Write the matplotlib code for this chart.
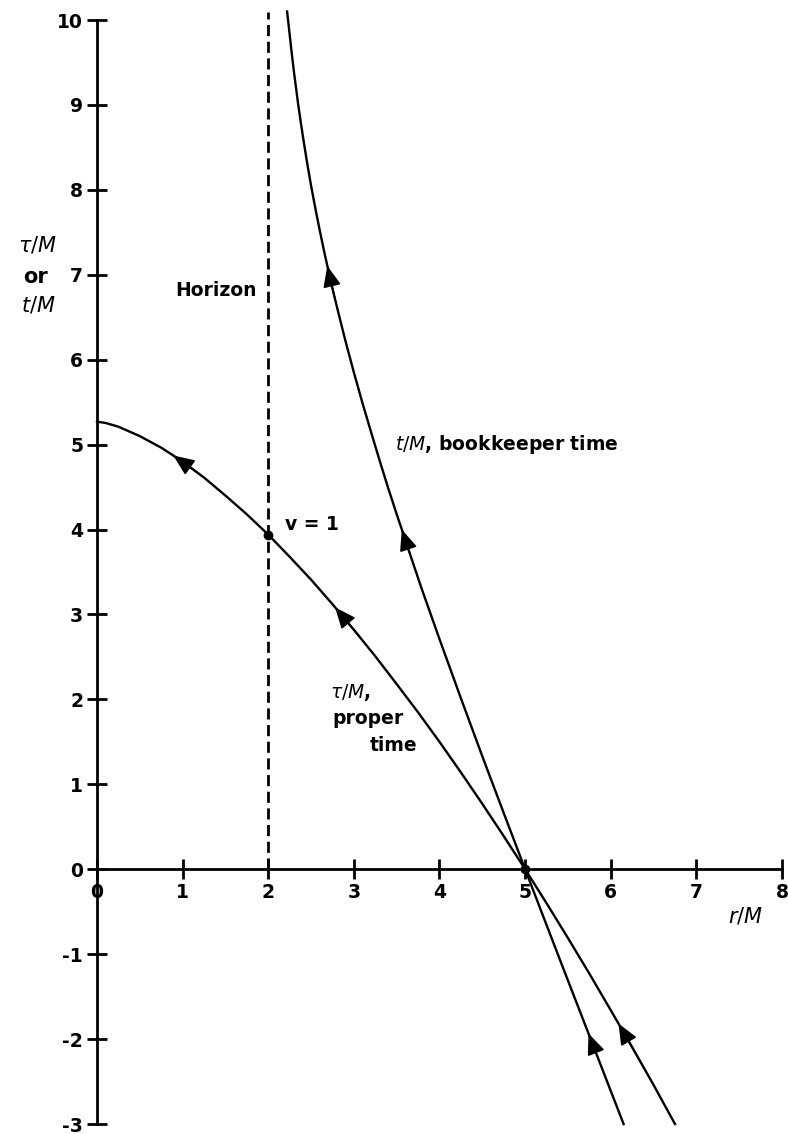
import numpy as np
import matplotlib
matplotlib.use("Agg")
import matplotlib.pyplot as plt

# ---- data ----
r_proper = [0.0, 0.1, 0.25, 0.5, 0.75, 1.0, 1.25, 1.5, 1.75, 2.0, 2.25, 2.5, 2.75, 3.0,
            3.25, 3.5, 3.75, 4.0, 4.25, 4.5, 4.75, 5.0, 5.25, 5.5, 5.75, 6.0, 6.25, 6.5, 6.75]
tau_proper = [5.27, 5.255, 5.211, 5.10, 4.964, 4.80, 4.612, 4.40, 4.179, 3.94, 3.679, 3.41,
              3.121, 2.82, 2.508, 2.18, 1.847, 1.50, 1.140, 0.77, 0.390, 0.0, -0.400, -0.81,
              -1.229, -1.66, -2.095, -2.54, -3.0]

r_book = [2.22, 2.25, 2.27, 2.3, 2.35, 2.4, 2.45, 2.5, 2.55, 2.6, 2.65, 2.7, 2.75, 2.8, 2.9,
          3.0, 3.1, 3.2, 3.3, 3.4, 3.5, 3.6, 3.7, 3.8, 4.0, 4.25, 4.5, 4.75, 5.0, 5.25, 5.5,
          5.75, 6.0, 6.15]
t_book = [10.1, 9.83, 9.646, 9.39, 9.002, 8.66, 8.342, 8.05, 7.782, 7.53, 7.287, 7.06, 6.838,
          6.63, 6.227, 5.85, 5.491, 5.15, 4.815, 4.49, 4.181, 3.88, 3.577, 3.28, 2.71, 2.013,
          1.33, 0.662, 0.0, -0.656, -1.31, -1.960, -2.61, -3.0]

arrow_r_proper = [0.89, 2.78, 6.09]
arrow_r_book = [2.69, 3.56, 5.74]

horizon_r = 2.0
dot_r = [2.0, 5.0]

x_ticks = [0, 1, 2, 3, 4, 5, 6, 7, 8]
y_ticks = [-3, -2, -1, 0, 1, 2, 3, 4, 5, 6, 7, 8, 9, 10]

FONT = "DejaVu Sans"
plt.rcParams["font.family"] = [FONT]
plt.rcParams["mathtext.fontset"] = "dejavusans"

fig = plt.figure(figsize=(7.88, 11.34), dpi=100)
ax = fig.add_axes([97 / 788, 10 / 1134, 685 / 788, 1104 / 1134])
ax.set_xlim(0, 8)
ax.set_ylim(-3, 10)

for s in ["top", "right"]:
    ax.spines[s].set_visible(False)
ax.spines["left"].set_position(("data", 0))
ax.spines["bottom"].set_position(("data", 0))
ax.spines["left"].set_linewidth(2)
ax.spines["bottom"].set_linewidth(2)

ax.set_xticks(x_ticks)
ax.set_yticks(y_ticks)
ax.set_xticklabels([str(v) for v in x_ticks])
ax.set_yticklabels([str(v) for v in y_ticks])
ax.tick_params(direction="inout", length=14, width=2, labelsize=13.5, pad=3)
for lab in ax.get_xticklabels() + ax.get_yticklabels():
    lab.set_fontweight("bold")

# curves
ax.plot(r_proper, tau_proper, color="black", lw=1.7, clip_on=False, zorder=3)
ax.plot(r_book, t_book, color="black", lw=1.7, clip_on=False, zorder=3)

# horizon
ax.vlines(horizon_r, 0, 10.1, colors="black", linestyles=(0, (4, 2)), lw=2, clip_on=False)

# dots
dot_y = np.interp(dot_r, r_proper, tau_proper)
ax.plot(dot_r, dot_y, "o", color="black", ms=6, zorder=4, clip_on=False)

# arrows
def arrows(rs, xs, ys, dr):
    for r in rs:
        ty = np.interp(r, xs, ys)
        sy = np.interp(r + dr, xs, ys)
        ax.annotate("", xy=(r, ty), xytext=(r + dr, sy),
                    arrowprops=dict(arrowstyle="-|>,head_length=1.3,head_width=0.55",
                                    mutation_scale=10, color="black", lw=1.2,
                                    shrinkA=0, shrinkB=0), zorder=5)

arrows(arrow_r_proper, r_proper, tau_proper, 0.3)
arrows(arrow_r_book, r_book, t_book, 0.09)

# texts
tkw = dict(fontsize=13.5, fontweight="bold", color="black")
ax.text(1.87, 6.82, "Horizon", ha="right", va="center", **tkw)
ax.text(2.2, 4.06, "v = 1", ha="left", va="center", **tkw)
ax.text(3.48, 5.0, r"$t/M$, bookkeeper time", ha="left", va="center", **tkw)
ax.text(2.72, 2.08, r"$\tau/M$,", ha="left", va="center", **tkw)
ax.text(2.75, 1.78, "proper", ha="left", va="center", **tkw)
ax.text(3.19, 1.46, "time", ha="left", va="center", **tkw)
ax.text(7.57, -0.55, r"$r/M$", ha="center", va="center", fontsize=15, fontweight="bold")

fig.text(38 / 788, 1 - 245 / 1134, r"$\tau/M$", ha="center", va="center", fontsize=15)
fig.text(36 / 788, 1 - 277 / 1134, "or", ha="center", va="center", fontsize=15, fontweight="bold")
fig.text(38 / 788, 1 - 305 / 1134, r"$t/M$", ha="center", va="center", fontsize=15)

fig.savefig("out.png", dpi=100)
